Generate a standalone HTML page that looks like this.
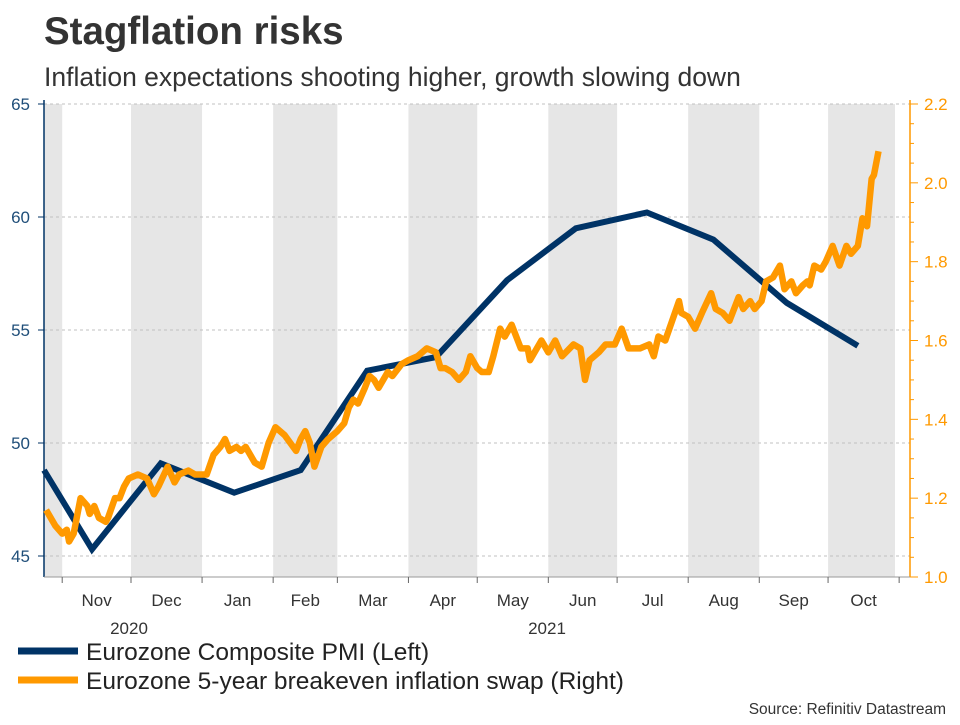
<!DOCTYPE html>
<html><head><meta charset="utf-8"><style>
body{margin:0;background:#fff;font-family:"Liberation Sans",Arial,sans-serif;}
svg text{font-family:"Liberation Sans",Arial,sans-serif;}
</style></head><body>
<svg id="c" width="960" height="720" xmlns="http://www.w3.org/2000/svg">
<text x="44" y="44" font-size="38.5" font-weight="bold" fill="#333">Stagflation risks</text>
<text x="44" y="86" font-size="26.5" fill="#333">Inflation expectations shooting higher, growth slowing down</text>
<g id="bands"></g><g id="grid"></g><g id="axes"></g><g id="series"></g>
<g>
<line x1="18" y1="651" x2="78" y2="651" stroke="#003366" stroke-width="7"/>
<text x="86" y="660" font-size="24.5" fill="#222">Eurozone Composite PMI (Left)</text>
<line x1="18" y1="680" x2="78" y2="680" stroke="#ff9900" stroke-width="7"/>
<text x="86" y="689" font-size="24.5" fill="#222">Eurozone 5-year breakeven inflation swap (Right)</text>
</g>
<text x="946" y="714" font-size="15.5" fill="#333" text-anchor="end">Source: Refinitiv Datastream</text>
</svg>
<script>
const monthLabels=["Nov","Dec","Jan","Feb","Mar","Apr","May","Jun","Jul","Aug","Sep","Oct"];
const monthStarts=[0,30,61,92,120,151,181,212,242,273,304,334,365];
const leftTicks=[45,50,55,60,65];
const rightTicks=[1.0,1.2,1.4,1.6,1.8,2.0,2.2];
const pmiDays=[-8,13,43,75,104,133,163,194,224,255,284,316,347];
const pmiValues=[48.8,45.3,49.1,47.8,48.8,53.2,53.8,57.2,59.5,60.2,59.0,56.2,54.3];
const swapDays=[-7,-5,-3,0,2,3,5,8,11,12,14,16,19,20,23,25,27,29,33,37,40,42,46,49,51,55,58,63,66,69,71,73,76,78,80,84,87,90,93,97,102,104,106,108,110,113,116,120,123,125,127,129,132,134,136,138,140,142,144,148,151,155,159,163,165,167,170,173,176,178,181,183,186,188,191,193,196,200,203,204,207,209,212,215,218,223,226,228,230,234,237,239,241,244,247,252,256,258,260,263,266,269,270,273,276,279,283,285,288,291,295,297,300,302,305,307,310,313,315,318,320,323,325,326,328,331,333,336,339,342,344,347,349,351,353,354,356];
const swapValues=[1.17,1.15,1.13,1.11,1.12,1.09,1.11,1.20,1.18,1.16,1.18,1.15,1.14,1.15,1.20,1.20,1.23,1.25,1.26,1.25,1.21,1.23,1.28,1.24,1.26,1.27,1.26,1.26,1.31,1.33,1.35,1.32,1.33,1.32,1.33,1.29,1.28,1.34,1.38,1.36,1.32,1.35,1.37,1.34,1.28,1.33,1.35,1.37,1.39,1.43,1.45,1.44,1.48,1.51,1.50,1.48,1.50,1.52,1.51,1.54,1.55,1.56,1.58,1.57,1.53,1.53,1.52,1.50,1.52,1.56,1.53,1.52,1.52,1.56,1.63,1.61,1.64,1.58,1.58,1.55,1.58,1.60,1.57,1.60,1.56,1.59,1.58,1.50,1.55,1.57,1.59,1.59,1.59,1.63,1.58,1.58,1.59,1.56,1.61,1.60,1.65,1.70,1.67,1.66,1.63,1.67,1.72,1.68,1.67,1.65,1.71,1.68,1.70,1.68,1.70,1.75,1.76,1.79,1.73,1.75,1.72,1.74,1.75,1.74,1.79,1.78,1.80,1.84,1.79,1.84,1.82,1.84,1.91,1.89,2.01,2.02,2.08];

const NS="http://www.w3.org/2000/svg";
const L=44,R=910,T=104,B=577,PR=895;
const x=d=>62.2+d*2.293;
const yL=v=>556-(v-45)*(452/20);
const yR=v=>B-(v-1.0)*(B-T)/1.2;
function mk(tag,attrs,parent){const e=document.createElementNS(NS,tag);for(const k in attrs)e.setAttribute(k,attrs[k]);document.getElementById(parent).appendChild(e);return e;}
const shaded=[[-9,0]];
for(let i=1;i<monthStarts.length-1;i+=2)shaded.push([monthStarts[i],monthStarts[i+1]]);
shaded.forEach(s=>{const a=Math.max(L,x(s[0])),b=Math.min(PR,x(s[1]));const e=mk('rect',{x:a,y:T,width:b-a,height:B-T,fill:'#e6e6e6'},'bands');

});
leftTicks.forEach(v=>{const e=mk('line',{x1:L,x2:R,y1:yL(v),y2:yL(v),stroke:'#c0c0c0','stroke-dasharray':'3,3'},'grid');

});
let e=mk('line',{x1:L,x2:L,y1:T-4,y2:B,stroke:'#003366','stroke-width':1.5},'axes');


leftTicks.forEach(v=>{mk('line',{x1:L-6,x2:L,y1:yL(v),y2:yL(v),stroke:'#003366'},'axes');
const t=mk('text',{x:L-14,y:yL(v)+6,'font-size':17,fill:'#1f4e79','text-anchor':'end'},'axes');t.textContent=v;

});
e=mk('line',{x1:R,x2:R,y1:T-4,y2:B,stroke:'#ff9900','stroke-width':1.5},'axes');


for(let v=1.0;v<=2.2001;v+=0.05){mk('line',{x1:R,x2:R+(Math.abs(v*5-Math.round(v*5))<0.01?8:4),y1:yR(v),y2:yR(v),stroke:'#ff9900'},'axes');}
rightTicks.forEach(v=>{const t=mk('text',{x:R+14,y:yR(v)+6,'font-size':17,fill:'#ff9900'},'axes');t.textContent=v.toFixed(1);

});
mk('line',{x1:L,x2:R,y1:B,y2:B,stroke:'#999'},'axes');
monthStarts.forEach(d=>{if(x(d)<=R)mk('line',{x1:x(d),x2:x(d),y1:B,y2:B+6,stroke:'#666'},'axes');});
monthLabels.forEach((m,i)=>{const t=mk('text',{x:(x(monthStarts[i])+x(monthStarts[i+1]))/2,y:606,'font-size':17,fill:'#333','text-anchor':'middle'},'axes');t.textContent=m;

});
[['2020',129],['2021',547]].forEach(p=>{const t=mk('text',{x:p[1],y:634,'font-size':17,fill:'#333','text-anchor':'middle'},'axes');t.textContent=p[0];

});
e=mk('polyline',{points:pmiDays.map((d,i)=>Math.max(L,x(d))+','+yL(pmiValues[i])).join(' '),fill:'none',stroke:'#003366','stroke-width':6,'stroke-linejoin':'miter'},'series');


e=mk('polyline',{points:swapDays.map((d,i)=>x(d)+','+yR(swapValues[i])).join(' '),fill:'none',stroke:'#ff9900','stroke-width':6.5,'stroke-linejoin':'round'},'series');


</script>
</body></html>
